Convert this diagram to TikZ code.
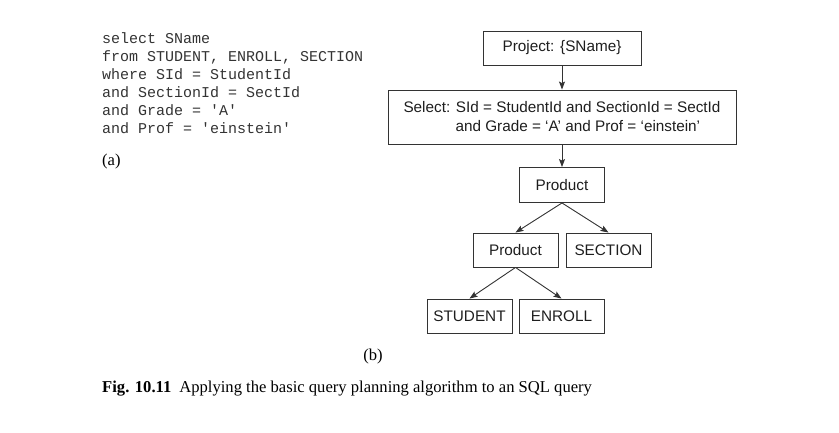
\documentclass[tikz,border=0pt]{standalone}
\usepackage{fontspec}
\setmainfont{Liberation Serif}
\setmonofont{Liberation Mono}
\newfontfamily\treefont{Liberation Sans}
\usetikzlibrary{arrows.meta}
\definecolor{linegray}{HTML}{333333}
\definecolor{textgray}{HTML}{1E1E1E}
\definecolor{codegray}{HTML}{333333}
\tikzset{
  codeline/.style={anchor=base west, inner sep=0pt, text=codegray, font=\ttfamily\fontsize{15}{18}\selectfont},
  treebox/.style={draw=linegray, line width=0.9pt, inner sep=0pt, text=textgray,
    font=\treefont\fontsize{15.3}{19}\selectfont, minimum height=34pt},
  arr/.style={draw=linegray, line width=0.9pt, -{Stealth[length=8pt,width=6pt,inset=1.5pt]}},
  serif/.style={anchor=base west, inner sep=0pt, text=black, font=\fontsize{16.6}{19}\selectfont}
}
\begin{document}
\begin{tikzpicture}[x=1pt,y=-1pt]
\useasboundingbox (0,0) rectangle (839,433);
% (a) SQL query
\node[codeline] (c1) at (102,44) {select SName};
\node[codeline] (c2) at (102,62) {from STUDENT, ENROLL, SECTION};
\node[codeline] (c3) at (102,80) {where SId = StudentId};
\node[codeline] (c4) at (102,98) {and SectionId = SectId};
\node[codeline] (c5) at (102,116) {and Grade = 'A'};
\node[codeline] (c6) at (102,134) {and Prof = 'einstein'};
\node[serif] (la) at (102,166) {(a)};
% (b) query tree
\node[treebox, minimum width=158pt] (proj) at (562,48) {Project: \{SName\}};
\node[treebox, minimum width=348pt, minimum height=54pt, align=left] (sel) at (562,117)
  {Select: SId = StudentId and SectionId = SectId\\\hspace*{52pt}and Grade = ‘A’ and Prof = ‘einstein’};
\node[treebox, minimum width=85pt, minimum height=35pt] (prod1) at (562,185) {Product};
\node[treebox, minimum width=85pt] (prod2) at (515.5,250) {Product};
\node[treebox, minimum width=85pt] (sect) at (608.5,250) {SECTION};
\node[treebox, minimum width=85pt] (stud) at (469.5,316) {STUDENT};
\node[treebox, minimum width=85pt] (enr) at (561.5,316) {ENROLL};
\draw[arr] (proj.south) -- (sel.north);
\draw[arr] (sel.south) -- (prod1.north);
\draw[arr] (prod1.south) -- (prod2.north);
\draw[arr] (prod1.south) -- (sect.north);
\draw[arr] (prod2.south) -- (stud.north);
\draw[arr] (prod2.south) -- (enr.north);
\node[serif, anchor=base] (lb) at (373,360) {(b)};
% caption
\node[serif] (cap) at (102,392) {{\bfseries Fig. 10.11}\hspace{8pt}Applying the basic query planning algorithm to an SQL query};
\end{tikzpicture}
\end{document}
